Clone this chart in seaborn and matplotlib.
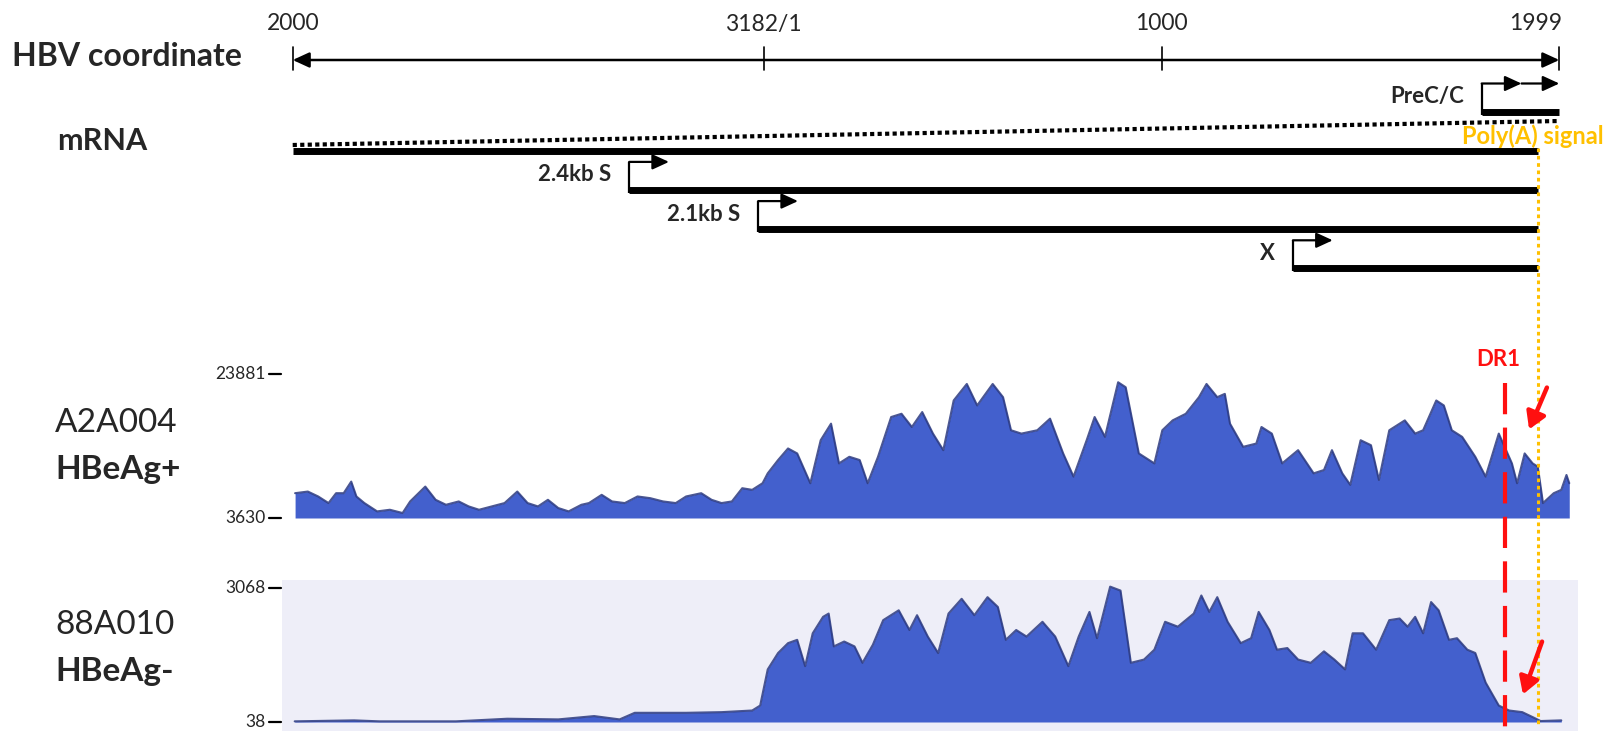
import matplotlib
matplotlib.use('Agg')
import matplotlib.pyplot as plt
import matplotlib.transforms as mtransforms
from matplotlib.lines import Line2D
from matplotlib.patches import FancyArrowPatch
import seaborn as sns

# HBV genome drawn as a line starting at nt 2000 (position 0) and wrapping at 3182/1
tick_pos = [0, 1182.5, 2182, 3181]
tick_labels = ['2000', '3182/1', '1000', '1999']

# transcripts, top to bottom (positions along the drawn genome line)
tx_names = ['PreC/C', '', '2.4kb S', '2.1kb S', 'X']
tx_start = [2986, 0, 845, 1169, 2512]
tx_end = [3181, 3127, 3127, 3127, 3127]
tx_promoter = [True, False, True, True, True]
precore_tips = [3086, 3181]

polya_pos = 3127
dr1_pos = 3045

# read coverage
track_ids = ['A2A004', '88A010']
track_status = ['HBeAg+', 'HBeAg-']
track_ranges = [(3630, 23881), (38, 3068)]

cov1_pos = [6, 38, 64, 90, 109, 128, 147, 160, 180, 212, 244, 276, 295, 333, 359, 385, 417, 442, 468, 500,
            532, 564, 590, 616, 641, 667, 693, 725, 744, 776, 802, 834, 866, 898, 930, 962, 988, 1026, 1052, 1077,
            1103, 1129, 1154, 1180, 1193, 1219, 1244, 1267,
            1300, 1326, 1352, 1372, 1398, 1424, 1444, 1470, 1503, 1529, 1555, 1581, 1608, 1634, 1660, 1693, 1719, 1758,
            1784, 1804, 1830, 1870, 1902, 1935, 1961, 1994, 2014, 2040, 2073, 2092, 2125, 2164, 2184, 2210, 2243, 2276,
            2295, 2322, 2341, 2354, 2387, 2420, 2433, 2459, 2485, 2525, 2564, 2590, 2610, 2636, 2656, 2682, 2708, 2728,
            2754, 2793, 2819, 2839, 2872, 2891, 2911, 2937, 2970, 2996, 3029, 3062, 3075, 3094, 3114, 3127, 3140, 3167,
            3186, 3199, 3206]
cov1_val = [7120, 7350, 6660, 5730, 7120, 7120, 8750, 6660, 5730, 4560, 4790, 4330, 5960, 8050, 6190, 5490, 5960,
            5260, 4790, 5260, 5730, 7350, 5730, 5260, 6190, 5030, 4560, 5490, 5730, 6890, 5960, 5730, 6660, 6420, 5960,
            5730, 6660, 7120, 6190, 5730, 5960, 7820, 7590, 8520, 9910, 11780, 13410, 12710,
            8520, 14570, 16900, 11310, 12240, 11780, 8520, 12240, 17830, 18290, 16430, 18530, 15500, 13170, 20160,
            22480, 19460, 22480, 20620, 15970, 15500, 15970, 17600, 12710, 9450, 14570, 17830, 15040, 22720, 22020,
            12710, 11310, 15970, 17360, 18290, 20620, 22480, 20620, 21090, 16900, 13640, 14100, 16430, 15500, 11310,
            13170, 9910, 10380, 13170, 9910, 8290, 14570, 13870, 8980, 15970, 17360, 15500, 15970, 20160, 19460, 15970,
            15040, 12240, 9450, 15500, 11310, 8520, 12710, 11310, 10850, 5730, 7120, 7590, 9680, 8520]

cov2_pos = [5, 154, 218, 410, 539, 667, 757, 821, 859, 988, 1077, 1154, 1174, 1193, 1219, 1244, 1267, 1287, 1306,
            1332, 1346, 1359, 1385, 1411, 1431, 1457, 1483, 1522, 1549, 1568, 1595, 1621, 1647, 1680, 1712, 1745, 1771,
            1791, 1817, 1843, 1883, 1915, 1948, 1974, 2001, 2020, 2053, 2079, 2105, 2138, 2164, 2191, 2223, 2263, 2282,
            2302, 2322, 2348, 2381, 2407, 2426, 2453, 2472, 2498, 2525, 2557, 2590, 2616, 2643, 2662, 2688, 2721, 2754,
            2780, 2800, 2819, 2839, 2859, 2878, 2904, 2924, 2950, 2970, 2996, 3029, 3055, 3088, 3114, 3134, 3186]
cov2_val = [53, 75, 53, 53, 112, 97, 172, 97, 246, 246, 261, 298, 410, 1227, 1598, 1821, 1896, 1301, 2044, 2416,
            2490, 1747, 1858, 1747, 1376, 1784, 2341, 2564, 2118, 2453, 1970, 1598, 2490, 2824, 2453, 2861, 2639, 1896,
            2118, 1970, 2304, 1970, 1301, 1970, 2527, 1933, 3099, 3010, 1376, 1450, 1673, 2304, 2193, 2490, 2899, 2527,
            2861, 2304, 1821, 1933, 2527, 2118, 1673, 1710, 1450, 1376, 1636, 1450, 1227, 2044, 2044, 1673, 2341, 2378,
            2193, 2416, 2044, 2750, 2564, 1896, 1933, 1673, 1598, 930, 410, 298, 261, 149, 60, 75]

sns.set_theme(style='white')
plt.rcParams['font.family'] = ['Lato', 'DejaVu Sans']

W, H = 1617, 731
PX0, PXB = 292.7, 0.39818  # pixel of position 0, pixels per nt

BLUE = '#4360CD'
EDGE = '#2C3A80'
GOLD = '#FFC000'
RED = '#FF1010'


def gx(px):
    return (px - PX0) / PXB


fig = plt.figure(figsize=(W / 100, H / 100), dpi=100)


def band(top, bottom):
    ax = fig.add_axes([0, 1 - bottom / H, 1, (bottom - top) / H])
    ax.set_xlim(gx(0), gx(W))
    ax.axis('off')
    return ax


def ftext(px, py, s, **kw):
    fig.text(px / W, 1 - py / H, s, **kw)


head = 'head_length=0.5,head_width=0.23'

# ---- map panel (y in pixels from top) ----
ax_map = band(0, 300)
ax_map.set_ylim(300, 0)

axis_y = 60
ax_map.annotate('', xy=(tick_pos[0], axis_y), xytext=(tick_pos[-1], axis_y),
                arrowprops=dict(arrowstyle='<|-|>,' + head, lw=1.8, color='black',
                                shrinkA=0, shrinkB=0, mutation_scale=20))
for p, lab in zip(tick_pos, tick_labels):
    ax_map.plot([p, p], [47, 70], color='black', lw=1.2)
    if lab == tick_labels[-1]:
        ax_map.text(p + 8, 24, lab, ha='right', va='center', fontsize=16.5)
    else:
        ax_map.text(p, 24, lab, ha='center', va='center', fontsize=16.5)

lane0, lane_step = 111.5, 39.2
rise, arrow_len = 28, 100
for i, (name, s, e, prom) in enumerate(zip(tx_names, tx_start, tx_end, tx_promoter)):
    y = lane0 + lane_step * i
    ax_map.plot([s, e], [y, y], color='black', lw=5.0, solid_capstyle='butt')
    if prom:
        ax_map.plot([s, s], [y + 3, y - rise], color='black', lw=1.6, solid_capstyle='butt')
        tips = precore_tips if i == 0 else [s + arrow_len]
        prev = s
        for t in tips:
            ax_map.annotate('', xy=(t, y - rise), xytext=(prev, y - rise),
                            arrowprops=dict(arrowstyle='-|>,' + head, lw=1.6, color='black',
                                            shrinkA=0, shrinkB=0, mutation_scale=20))
            prev = t
        ax_map.text(s - 45, y - 15, name, ha='right', va='center', fontsize=16, fontweight='bold')

# dotted extension of the pregenomic RNA
ax_map.plot([tick_pos[0], tick_pos[-1]], [145, 121], color='black', lw=3.0,
            linestyle=(0, (1.0, 0.8)), dash_capstyle='butt')

ax_map.text(polya_pos - 190, 136, 'Poly(A) signal', ha='left', va='center',
            fontsize=17, fontweight='bold', color=GOLD)

ftext(12, 57, 'HBV coordinate', ha='left', va='center', fontsize=23, fontweight='bold')
ftext(57, 141, 'mRNA', ha='left', va='center', fontsize=22, fontweight='bold')

# ---- coverage tracks ----
tracks = [
    dict(pos=cov1_pos, val=cov1_val, top=355, bottom=525, ptop=374, pbot=518, bg=None,
         id_y=423, st_y=470),
    dict(pos=cov2_pos, val=cov2_val, top=578, bottom=731, ptop=588, pbot=722, bg='#EEEEF8',
         id_y=625, st_y=672),
]

for k, tr in enumerate(tracks):
    lo, hi = track_ranges[k]
    ax = band(tr['top'], tr['bottom'])
    per_px = (hi - lo) / (tr['pbot'] - tr['ptop'])
    ax.set_ylim(lo - (tr['bottom'] - tr['pbot']) * per_px, hi + (tr['ptop'] - tr['top']) * per_px)
    if tr['bg']:
        ax.axvspan(gx(282), gx(1578), ymin=0.0, ymax=0.99, color=tr['bg'], lw=0, zorder=0)
    ax.fill_between(tr['pos'], lo, tr['val'], color=BLUE, lw=0, zorder=2)
    sns.lineplot(x=tr['pos'], y=tr['val'], ax=ax, color=EDGE, lw=1.5, alpha=0.85, zorder=3)
    ax.axis('off')

    # y range labels with short tick marks
    ax.text(gx(266), hi, str(hi), ha='right', va='center', fontsize=12.5)
    ax.text(gx(266), lo, str(lo), ha='right', va='center', fontsize=12.5)
    for v in (lo, hi):
        ax.plot([gx(269), gx(281)], [v, v], color='black', lw=1.6, clip_on=False)

    ftext(55, tr['id_y'], track_ids[k], ha='left', va='center', fontsize=24)
    ftext(55, tr['st_y'], track_status[k], ha='left', va='center', fontsize=24, fontweight='bold')

# ---- vertical markers spanning panels ----
trans = mtransforms.blended_transform_factory(ax_map.transData, fig.transFigure)
fig.add_artist(Line2D([polya_pos, polya_pos], [1 - 148 / H, 1 - 727 / H], transform=trans,
                      color=GOLD, lw=2.2, linestyle=(0, (1.2, 1.2)), zorder=5))
fig.add_artist(Line2D([dr1_pos, dr1_pos], [1 - 383 / H, 0], transform=trans,
                      color=RED, lw=3.0, linestyle=(0, (7.5, 3.2)), zorder=5))
ftext(1498, 360, 'DR1', ha='center', va='center', fontsize=16, fontweight='bold', color=RED)

# red arrows pointing at the poly(A) end of each track
for (x0, y0, x1, y1) in [(1548, 385, 1528, 432), (1543, 639, 1522, 697)]:
    fig.add_artist(FancyArrowPatch(
        (x0 / W, 1 - y0 / H), (x1 / W, 1 - y1 / H), transform=fig.transFigure,
        arrowstyle='-|>,head_length=0.5,head_width=0.3', mutation_scale=20,
        color=RED, lw=3.2, zorder=6))

fig.savefig('out.png', dpi=100)
